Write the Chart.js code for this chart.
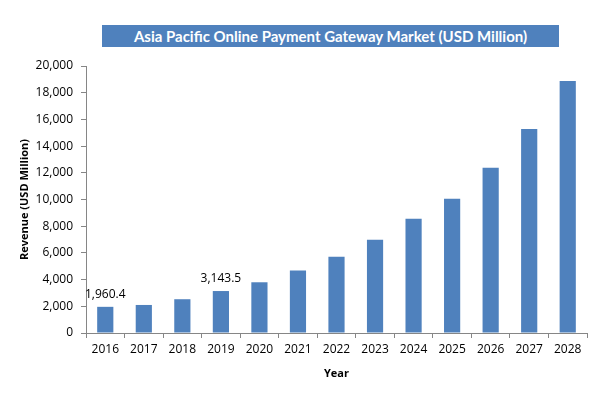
<!DOCTYPE html>
<html>
<head>
<meta charset="utf-8">
<script src="https://cdn.jsdelivr.net/npm/chart.js@4/dist/chart.umd.min.js"></script>
<style>
  html,body{margin:0;padding:0;background:#fff;}
  #wrap{position:relative;width:610px;height:398px;}
  #title{position:absolute;left:102px;top:25px;width:457px;height:22px;background:#4F81BD;color:#fff;
    font-family:Lato,"Open Sans",sans-serif;font-weight:bold;font-size:15px;line-height:22px;text-align:center;}
  canvas{position:absolute;left:0;top:0;}
</style>
</head>
<body>
<div id="wrap">
<canvas id="c" width="610" height="398"></canvas>
<div id="title">Asia Pacific Online Payment Gateway Market (USD Million)</div>
</div>
<script>
const years = ["2016","2017","2018","2019","2020","2021","2022","2023","2024","2025","2026","2027","2028"];
const revenue = [1960.4, 2100, 2530, 3143.5, 3800, 4680, 5710, 6980, 8550, 10050, 12370, 15290, 18880];
const labelledYears = ["2016","2019"];
const yTicks = [0,2000,4000,6000,8000,10000,12000,14000,16000,18000,20000];

const fontFam = '"Open Sans", Lato, sans-serif';

const valueLabels = {
  id:'valueLabels',
  afterDatasetsDraw(chart){
    const ctx = chart.ctx;
    const meta = chart.getDatasetMeta(0);
    ctx.save();
    ctx.font = '12px ' + fontFam;
    ctx.fillStyle = '#000';
    ctx.textAlign = 'center';
    ctx.textBaseline = 'bottom';
    years.forEach((y,i)=>{
      if(labelledYears.includes(y)){
        const el = meta.data[i];
        const txt = revenue[i].toLocaleString('en-US',{minimumFractionDigits:1,maximumFractionDigits:1});
        ctx.fillText(txt, el.x, el.y - 6);
      }
    });
    ctx.restore();
  }
};

new Chart(document.getElementById('c'), {
  type:'bar',
  data:{labels:years, datasets:[{data:revenue, backgroundColor:'#4F81BD', borderWidth:0,
    barPercentage:0.42, categoryPercentage:1}]},
  options:{
    responsive:false, animation:false, devicePixelRatio:1,
    layout:{padding:{left:18,right:23,top:66,bottom:18}},
    plugins:{legend:{display:false}, tooltip:{enabled:false}, title:{display:false}},
    scales:{
      x:{
        grid:{display:true, drawOnChartArea:false, offset:true, tickLength:5, color:'#868686'},
        border:{color:'#868686'},
        ticks:{color:'#000', font:{family:fontFam,size:12}, padding:4, maxRotation:0},
        title:{display:true, text:'Year', color:'#000', font:{family:fontFam,size:11,weight:'bold'}, padding:{top:2,bottom:0}},
        afterFit(s){ s.height = 47; }
      },
      y:{
        min:0, max:20000,
        afterBuildTicks(s){ s.ticks = yTicks.map(v=>({value:v})); },
        grid:{display:true, drawOnChartArea:false, tickLength:5, color:'#868686'},
        border:{color:'#868686'},
        ticks:{color:'#000', font:{family:fontFam,size:12}, padding:8,
          callback:v=>v.toLocaleString('en-US')},
        title:{display:true, text:'Revenue (USD Million)', color:'#000', font:{family:fontFam,size:11,weight:'bold'}, padding:{top:0,bottom:0}},
        afterFit(s){ s.width = 68; }
      }
    }
  },
  plugins:[valueLabels]
});
</script>
</body>
</html>
